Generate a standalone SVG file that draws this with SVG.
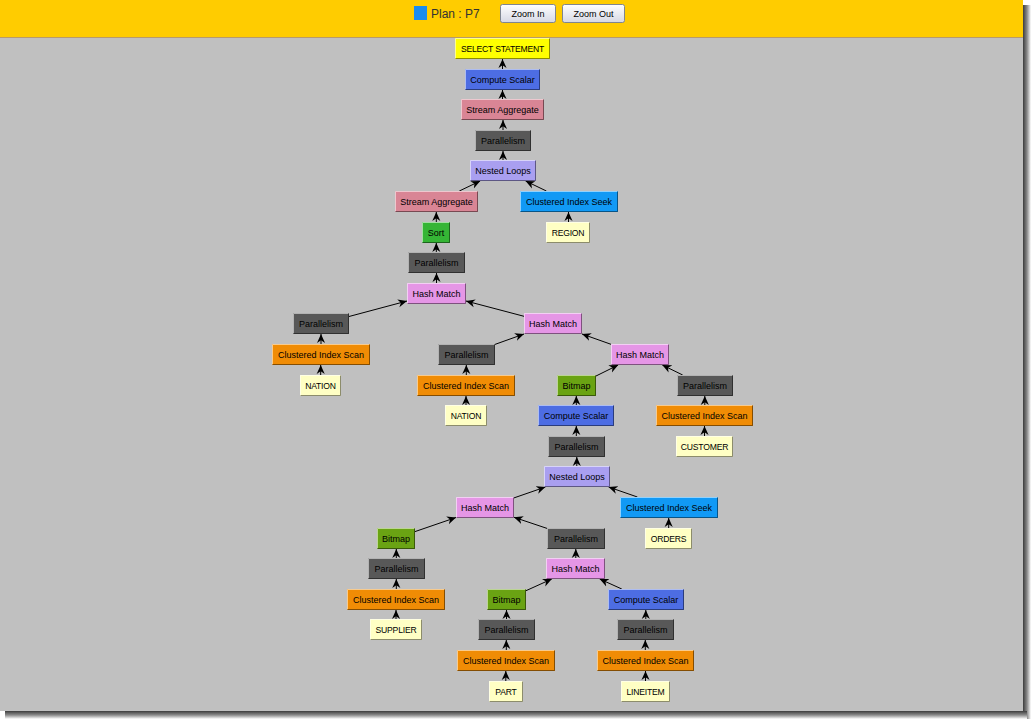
<svg xmlns="http://www.w3.org/2000/svg" width="1036" height="725" viewBox="0 0 1036 725">
<defs>
<linearGradient id="shR" x1="0" y1="0" x2="1" y2="0"><stop offset="0" stop-color="#3c3c3c"/><stop offset="0.5" stop-color="#8a8a8a"/><stop offset="1" stop-color="#ffffff"/></linearGradient>
<linearGradient id="shB" x1="0" y1="0" x2="0" y2="1"><stop offset="0" stop-color="#3c3c3c"/><stop offset="0.5" stop-color="#8a8a8a"/><stop offset="1" stop-color="#ffffff"/></linearGradient>
<linearGradient id="btn" x1="0" y1="0" x2="0" y2="1"><stop offset="0" stop-color="#ffffff"/><stop offset="1" stop-color="#d6d8e4"/></linearGradient>
<marker id="ah" viewBox="0 0 10 10" markerWidth="9" markerHeight="9" refX="10" refY="5" orient="auto" markerUnits="userSpaceOnUse"><path d="M0,0.5 L10,5 L0,9.5 L3,5 z" fill="#000"/></marker>
</defs>
<style>
text{font-family:"Liberation Sans",Arial,sans-serif;font-size:9px;text-anchor:middle;fill:#000}
.lf text{font-size:8.6px;letter-spacing:-0.2px}
.hl{fill:none;stroke:#fff;stroke-opacity:0.55}
.sh{fill:none;stroke:#000;stroke-opacity:0.45}
.sel{fill:#ffff00}.cs{fill:#4d6de3}.sa{fill:#d98595}.par{fill:#585858}.nl{fill:#a99ff0}
.seek{fill:#1199f5}.sort{fill:#35b535}.leaf{fill:#ffffc4}.hm{fill:#e596e6}.scan{fill:#f08c05}.bm{fill:#6aa313}
#edges line{stroke:#000;stroke-width:1;marker-end:url(#ah)}
</style>
<rect width="1036" height="725" fill="#ffffff"/>
<rect x="1023" y="5" width="8" height="714" fill="url(#shR)"/>
<rect x="5" y="711" width="1022" height="8" fill="url(#shB)"/>
<rect x="0" y="0" width="1023" height="711" fill="#c0c0c0"/>
<rect x="0" y="0" width="1023" height="37" fill="#ffcc00"/>
<line x1="0" y1="37.5" x2="1023" y2="37.5" stroke="#b89a6a" stroke-width="1"/>
<g id="header">
<rect x="414" y="6" width="13" height="14" fill="#1a8cf0"/>
<text x="431" y="18" style="font-size:12px;text-anchor:start;fill:#333">Plan : P7</text>
<rect x="500.5" y="4.5" width="55" height="18" rx="2" fill="url(#btn)" stroke="#7f8590"/>
<text x="528" y="16.5">Zoom In</text>
<rect x="562.5" y="4.5" width="62" height="18" rx="2" fill="url(#btn)" stroke="#7f8590"/>
<text x="593.5" y="16.5">Zoom Out</text>
</g>
<g id="edges">
<line x1="502.5" y1="69" x2="502.5" y2="59"/>
<line x1="502.5" y1="99" x2="502.5" y2="90"/>
<line x1="503" y1="130" x2="503" y2="120"/>
<line x1="503" y1="160" x2="503" y2="151"/>
<line x1="459.3" y1="191" x2="480.2" y2="181"/>
<line x1="546.4" y1="191" x2="525.6" y2="181"/>
<line x1="436.3" y1="222" x2="436.3" y2="212"/>
<line x1="568.5" y1="222" x2="568.5" y2="212"/>
<line x1="436.3" y1="252" x2="436.3" y2="243"/>
<line x1="436.5" y1="283" x2="436.5" y2="273"/>
<line x1="349" y1="316.5" x2="407" y2="301"/>
<line x1="524" y1="316.3" x2="466" y2="301"/>
<line x1="321" y1="344" x2="321" y2="334"/>
<line x1="495" y1="344.4" x2="524" y2="334"/>
<line x1="611" y1="344.3" x2="582" y2="334"/>
<line x1="320.7" y1="375" x2="320.7" y2="365"/>
<line x1="466.3" y1="375" x2="466.3" y2="365"/>
<line x1="596" y1="376" x2="618.2" y2="365"/>
<line x1="682.7" y1="375" x2="662.3" y2="365"/>
<line x1="466" y1="405" x2="466" y2="396"/>
<line x1="576.3" y1="405" x2="576.3" y2="396"/>
<line x1="704.8" y1="405" x2="704.8" y2="396"/>
<line x1="576.3" y1="436" x2="576.3" y2="426"/>
<line x1="704.5" y1="436" x2="704.5" y2="426"/>
<line x1="576.8" y1="466" x2="576.8" y2="457"/>
<line x1="514" y1="497.9" x2="545.4" y2="487"/>
<line x1="637.4" y1="497" x2="608.6" y2="487"/>
<line x1="415" y1="531.6" x2="456" y2="517.5"/>
<line x1="547" y1="528.4" x2="514" y2="517.3"/>
<line x1="668.7" y1="528" x2="668.7" y2="518"/>
<line x1="396.3" y1="558" x2="396.3" y2="549"/>
<line x1="575.8" y1="558" x2="575.8" y2="549"/>
<line x1="396.3" y1="589" x2="396.3" y2="579"/>
<line x1="526" y1="590.7" x2="551.8" y2="579"/>
<line x1="621.8" y1="589" x2="599.7" y2="579"/>
<line x1="396" y1="619" x2="396" y2="610"/>
<line x1="506.5" y1="619" x2="506.5" y2="610"/>
<line x1="645.8" y1="619" x2="645.8" y2="610"/>
<line x1="506.3" y1="650" x2="506.3" y2="640"/>
<line x1="645.3" y1="650" x2="645.3" y2="640"/>
<line x1="505.8" y1="681" x2="505.8" y2="671"/>
<line x1="645.5" y1="681" x2="645.5" y2="671"/>
</g>
<g id="n1" class="lf"><rect class="sel" x="455" y="38" width="95" height="21"/><path class="hl" d="M455.5 58.5V38.5H549.5"/><path class="sh" d="M455.5 58.5H549.5V38.5"/><text x="502.5" y="51.5">SELECT STATEMENT</text></g>
<g id="n2"><rect class="cs" x="465" y="69" width="75" height="21"/><path class="hl" d="M465.5 89.5V69.5H539.5"/><path class="sh" d="M465.5 89.5H539.5V69.5"/><text x="502.5" y="82.5">Compute Scalar</text></g>
<g id="n3"><rect class="sa" x="461" y="99" width="83" height="21"/><path class="hl" d="M461.5 119.5V99.5H543.5"/><path class="sh" d="M461.5 119.5H543.5V99.5"/><text x="502.5" y="112.5">Stream Aggregate</text></g>
<g id="n4"><rect class="par" x="475" y="130" width="56" height="21"/><path class="hl" d="M475.5 150.5V130.5H530.5"/><path class="sh" d="M475.5 150.5H530.5V130.5"/><text x="503" y="143.5">Parallelism</text></g>
<g id="n5"><rect class="nl" x="470" y="160" width="66" height="21"/><path class="hl" d="M470.5 180.5V160.5H535.5"/><path class="sh" d="M470.5 180.5H535.5V160.5"/><text x="503" y="173.5">Nested Loops</text></g>
<g id="n6"><rect class="sa" x="395" y="191" width="83" height="21"/><path class="hl" d="M395.5 211.5V191.5H477.5"/><path class="sh" d="M395.5 211.5H477.5V191.5"/><text x="436.5" y="204.5">Stream Aggregate</text></g>
<g id="n7"><rect class="seek" x="520" y="191" width="98" height="21"/><path class="hl" d="M520.5 211.5V191.5H617.5"/><path class="sh" d="M520.5 211.5H617.5V191.5"/><text x="569" y="204.5">Clustered Index Seek</text></g>
<g id="n8"><rect class="sort" x="422" y="222" width="28" height="21"/><path class="hl" d="M422.5 242.5V222.5H449.5"/><path class="sh" d="M422.5 242.5H449.5V222.5"/><text x="436" y="235.5">Sort</text></g>
<g id="n9" class="lf"><rect class="leaf" x="546" y="222" width="44" height="21"/><path class="hl" d="M546.5 242.5V222.5H589.5"/><path class="sh" d="M546.5 242.5H589.5V222.5"/><text x="568" y="235.5">REGION</text></g>
<g id="n10"><rect class="par" x="408" y="252" width="57" height="21"/><path class="hl" d="M408.5 272.5V252.5H464.5"/><path class="sh" d="M408.5 272.5H464.5V252.5"/><text x="436.5" y="265.5">Parallelism</text></g>
<g id="n11"><rect class="hm" x="407" y="283" width="59" height="21"/><path class="hl" d="M407.5 303.5V283.5H465.5"/><path class="sh" d="M407.5 303.5H465.5V283.5"/><text x="436.5" y="296.5">Hash Match</text></g>
<g id="n12"><rect class="par" x="293" y="313" width="56" height="21"/><path class="hl" d="M293.5 333.5V313.5H348.5"/><path class="sh" d="M293.5 333.5H348.5V313.5"/><text x="321" y="326.5">Parallelism</text></g>
<g id="n13"><rect class="hm" x="524" y="313" width="58" height="21"/><path class="hl" d="M524.5 333.5V313.5H581.5"/><path class="sh" d="M524.5 333.5H581.5V313.5"/><text x="553" y="326.5">Hash Match</text></g>
<g id="n14"><rect class="scan" x="272" y="344" width="98" height="21"/><path class="hl" d="M272.5 364.5V344.5H369.5"/><path class="sh" d="M272.5 364.5H369.5V344.5"/><text x="321" y="357.5">Clustered Index Scan</text></g>
<g id="n15"><rect class="par" x="438" y="344" width="57" height="21"/><path class="hl" d="M438.5 364.5V344.5H494.5"/><path class="sh" d="M438.5 364.5H494.5V344.5"/><text x="466.5" y="357.5">Parallelism</text></g>
<g id="n16"><rect class="hm" x="611" y="344" width="58" height="21"/><path class="hl" d="M611.5 364.5V344.5H668.5"/><path class="sh" d="M611.5 364.5H668.5V344.5"/><text x="640" y="357.5">Hash Match</text></g>
<g id="n17" class="lf"><rect class="leaf" x="300" y="375" width="41" height="21"/><path class="hl" d="M300.5 395.5V375.5H340.5"/><path class="sh" d="M300.5 395.5H340.5V375.5"/><text x="320.5" y="388.5">NATION</text></g>
<g id="n18"><rect class="scan" x="417" y="375" width="98" height="21"/><path class="hl" d="M417.5 395.5V375.5H514.5"/><path class="sh" d="M417.5 395.5H514.5V375.5"/><text x="466" y="388.5">Clustered Index Scan</text></g>
<g id="n19"><rect class="bm" x="557" y="375" width="39" height="21"/><path class="hl" d="M557.5 395.5V375.5H595.5"/><path class="sh" d="M557.5 395.5H595.5V375.5"/><text x="576.5" y="388.5">Bitmap</text></g>
<g id="n20"><rect class="par" x="677" y="375" width="56" height="21"/><path class="hl" d="M677.5 395.5V375.5H732.5"/><path class="sh" d="M677.5 395.5H732.5V375.5"/><text x="705" y="388.5">Parallelism</text></g>
<g id="n21" class="lf"><rect class="leaf" x="445" y="405" width="42" height="21"/><path class="hl" d="M445.5 425.5V405.5H486.5"/><path class="sh" d="M445.5 425.5H486.5V405.5"/><text x="466" y="418.5">NATION</text></g>
<g id="n22"><rect class="cs" x="538" y="405" width="76" height="21"/><path class="hl" d="M538.5 425.5V405.5H613.5"/><path class="sh" d="M538.5 425.5H613.5V405.5"/><text x="576" y="418.5">Compute Scalar</text></g>
<g id="n23"><rect class="scan" x="656" y="405" width="97" height="21"/><path class="hl" d="M656.5 425.5V405.5H752.5"/><path class="sh" d="M656.5 425.5H752.5V405.5"/><text x="704.5" y="418.5">Clustered Index Scan</text></g>
<g id="n24"><rect class="par" x="548" y="436" width="57" height="21"/><path class="hl" d="M548.5 456.5V436.5H604.5"/><path class="sh" d="M548.5 456.5H604.5V436.5"/><text x="576.5" y="449.5">Parallelism</text></g>
<g id="n25" class="lf"><rect class="leaf" x="676" y="436" width="57" height="21"/><path class="hl" d="M676.5 456.5V436.5H732.5"/><path class="sh" d="M676.5 456.5H732.5V436.5"/><text x="704.5" y="449.5">CUSTOMER</text></g>
<g id="n26"><rect class="nl" x="544" y="466" width="66" height="21"/><path class="hl" d="M544.5 486.5V466.5H609.5"/><path class="sh" d="M544.5 486.5H609.5V466.5"/><text x="577" y="479.5">Nested Loops</text></g>
<g id="n27"><rect class="hm" x="456" y="497" width="58" height="21"/><path class="hl" d="M456.5 517.5V497.5H513.5"/><path class="sh" d="M456.5 517.5H513.5V497.5"/><text x="485" y="510.5">Hash Match</text></g>
<g id="n28"><rect class="seek" x="620" y="497" width="98" height="21"/><path class="hl" d="M620.5 517.5V497.5H717.5"/><path class="sh" d="M620.5 517.5H717.5V497.5"/><text x="669" y="510.5">Clustered Index Seek</text></g>
<g id="n29"><rect class="bm" x="377" y="528" width="38" height="21"/><path class="hl" d="M377.5 548.5V528.5H414.5"/><path class="sh" d="M377.5 548.5H414.5V528.5"/><text x="396" y="541.5">Bitmap</text></g>
<g id="n30"><rect class="par" x="547" y="528" width="58" height="21"/><path class="hl" d="M547.5 548.5V528.5H604.5"/><path class="sh" d="M547.5 548.5H604.5V528.5"/><text x="576" y="541.5">Parallelism</text></g>
<g id="n31" class="lf"><rect class="leaf" x="645" y="528" width="47" height="21"/><path class="hl" d="M645.5 548.5V528.5H691.5"/><path class="sh" d="M645.5 548.5H691.5V528.5"/><text x="668.5" y="541.5">ORDERS</text></g>
<g id="n32"><rect class="par" x="368" y="558" width="57" height="21"/><path class="hl" d="M368.5 578.5V558.5H424.5"/><path class="sh" d="M368.5 578.5H424.5V558.5"/><text x="396.5" y="571.5">Parallelism</text></g>
<g id="n33"><rect class="hm" x="546" y="558" width="59" height="21"/><path class="hl" d="M546.5 578.5V558.5H604.5"/><path class="sh" d="M546.5 578.5H604.5V558.5"/><text x="575.5" y="571.5">Hash Match</text></g>
<g id="n34"><rect class="scan" x="347" y="589" width="98" height="21"/><path class="hl" d="M347.5 609.5V589.5H444.5"/><path class="sh" d="M347.5 609.5H444.5V589.5"/><text x="396" y="602.5">Clustered Index Scan</text></g>
<g id="n35"><rect class="bm" x="487" y="589" width="39" height="21"/><path class="hl" d="M487.5 609.5V589.5H525.5"/><path class="sh" d="M487.5 609.5H525.5V589.5"/><text x="506.5" y="602.5">Bitmap</text></g>
<g id="n36"><rect class="cs" x="608" y="589" width="76" height="21"/><path class="hl" d="M608.5 609.5V589.5H683.5"/><path class="sh" d="M608.5 609.5H683.5V589.5"/><text x="646" y="602.5">Compute Scalar</text></g>
<g id="n37" class="lf"><rect class="leaf" x="370" y="619" width="52" height="21"/><path class="hl" d="M370.5 639.5V619.5H421.5"/><path class="sh" d="M370.5 639.5H421.5V619.5"/><text x="396" y="632.5">SUPPLIER</text></g>
<g id="n38"><rect class="par" x="478" y="619" width="57" height="21"/><path class="hl" d="M478.5 639.5V619.5H534.5"/><path class="sh" d="M478.5 639.5H534.5V619.5"/><text x="506.5" y="632.5">Parallelism</text></g>
<g id="n39"><rect class="par" x="617" y="619" width="57" height="21"/><path class="hl" d="M617.5 639.5V619.5H673.5"/><path class="sh" d="M617.5 639.5H673.5V619.5"/><text x="645.5" y="632.5">Parallelism</text></g>
<g id="n40"><rect class="scan" x="457" y="650" width="98" height="21"/><path class="hl" d="M457.5 670.5V650.5H554.5"/><path class="sh" d="M457.5 670.5H554.5V650.5"/><text x="506" y="663.5">Clustered Index Scan</text></g>
<g id="n41"><rect class="scan" x="597" y="650" width="97" height="21"/><path class="hl" d="M597.5 670.5V650.5H693.5"/><path class="sh" d="M597.5 670.5H693.5V650.5"/><text x="645.5" y="663.5">Clustered Index Scan</text></g>
<g id="n42" class="lf"><rect class="leaf" x="489" y="681" width="34" height="21"/><path class="hl" d="M489.5 701.5V681.5H522.5"/><path class="sh" d="M489.5 701.5H522.5V681.5"/><text x="506" y="694.5">PART</text></g>
<g id="n43" class="lf"><rect class="leaf" x="621" y="681" width="49" height="21"/><path class="hl" d="M621.5 701.5V681.5H669.5"/><path class="sh" d="M621.5 701.5H669.5V681.5"/><text x="645.5" y="694.5">LINEITEM</text></g>
</svg>
